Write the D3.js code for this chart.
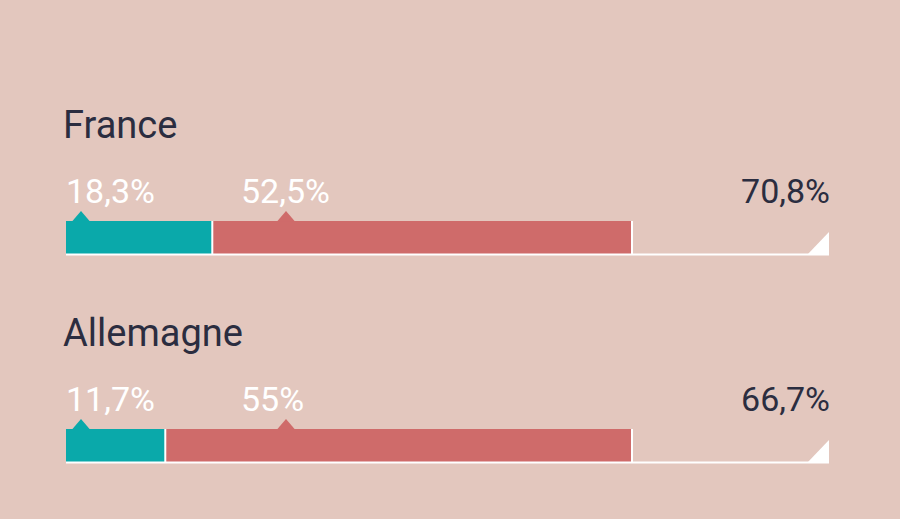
<!DOCTYPE html>
<html>
<head>
<meta charset="utf-8">
<script src="https://cdn.jsdelivr.net/npm/d3@7"></script>
<style>
	html, body { margin: 0; padding: 0; background: #e3c7be; }
	svg { display: block; font-family: Roboto, "Noto Sans", sans-serif; }
</style>
</head>
<body>
<div id="chart"></div>
<script>
// values
const countries = ["France", "Allemagne"];
const tealValues = [18.3, 11.7];
const redValues = [52.5, 55];
const totalValues = [70.8, 66.7];

const width = 900, height = 519;
const left = 66, barEnd = 632, lineEnd = 829;
const COLORS = { bg: "#e3c7be", teal: "#0aa9aa", red: "#cf6b6a", text: "#2b2d40", white: "#ffffff" };

const fr = d3.formatLocale({ decimal: ",", thousands: " ", grouping: [3], currency: ["", " €"] });
const fmt = v => fr.format(".1~f")(v) + "%";

const rows = countries.map((name, i) => ({
	name, teal: tealValues[i], red: redValues[i], total: totalValues[i]
}));

const svg = d3.select("#chart").append("svg")
	.attr("width", width)
	.attr("height", height);

svg.append("rect")
	.attr("width", width).attr("height", height)
	.attr("fill", COLORS.bg);

const rowY = d3.scalePoint()
	.domain(countries)
	.range([0, 208]);

const barTop = 221, barH = 33;

const marker = (g, cx, color) => {
	g.append("path")
		.attr("d", `M${cx - 9},${barTop + 0.5} L${cx},${barTop - 10} L${cx + 9},${barTop + 0.5} Z`)
		.attr("fill", color);
};

rows.forEach(d => {
	const g = svg.append("g").attr("transform", `translate(0, ${rowY(d.name)})`);

	// each row stretched over the same length
	const x = d3.scaleLinear()
		.domain([0, d.total])
		.range([left, barEnd]);

	g.append("text")
		.attr("x", 63).attr("y", 138)
		.attr("font-size", 38)
		.attr("fill", COLORS.text)
		.text(d.name);

	// segments
	g.append("rect")
		.attr("x", x(0)).attr("y", barTop)
		.attr("width", x(d.teal) - x(0)).attr("height", barH)
		.attr("fill", COLORS.teal);
	g.append("rect")
		.attr("x", x(d.teal)).attr("y", barTop)
		.attr("width", x(d.teal + d.red) - x(d.teal)).attr("height", barH)
		.attr("fill", COLORS.red);

	marker(g, 81, COLORS.teal);
	marker(g, 286, COLORS.red);

	// white separators + baseline
	[d.teal, d.teal + d.red].forEach(v => {
		g.append("line")
			.attr("x1", x(v)).attr("x2", x(v))
			.attr("y1", barTop).attr("y2", barTop + barH)
			.attr("stroke", COLORS.white).attr("stroke-width", 2);
	});
	g.append("line")
		.attr("x1", left).attr("x2", lineEnd)
		.attr("y1", barTop + barH + 0.5).attr("y2", barTop + barH + 0.5)
		.attr("stroke", COLORS.white).attr("stroke-width", 2);
	g.append("path")
		.attr("d", `M${lineEnd - 22},${barTop + barH + 1} L${lineEnd},${barTop + 11} L${lineEnd},${barTop + barH + 1} Z`)
		.attr("fill", COLORS.white);

	// labels
	g.append("text")
		.attr("x", 66).attr("y", 203)
		.attr("font-size", 34)
		.attr("fill", COLORS.white)
		.text(fmt(d.teal));
	g.append("text")
		.attr("x", 241).attr("y", 203)
		.attr("font-size", 34)
		.attr("fill", COLORS.white)
		.text(fmt(d.red));
	g.append("text")
		.attr("x", lineEnd + 1).attr("y", 203)
		.attr("text-anchor", "end")
		.attr("font-size", 34)
		.attr("fill", COLORS.text)
		.text(fmt(d.total));
});
</script>
</body>
</html>
